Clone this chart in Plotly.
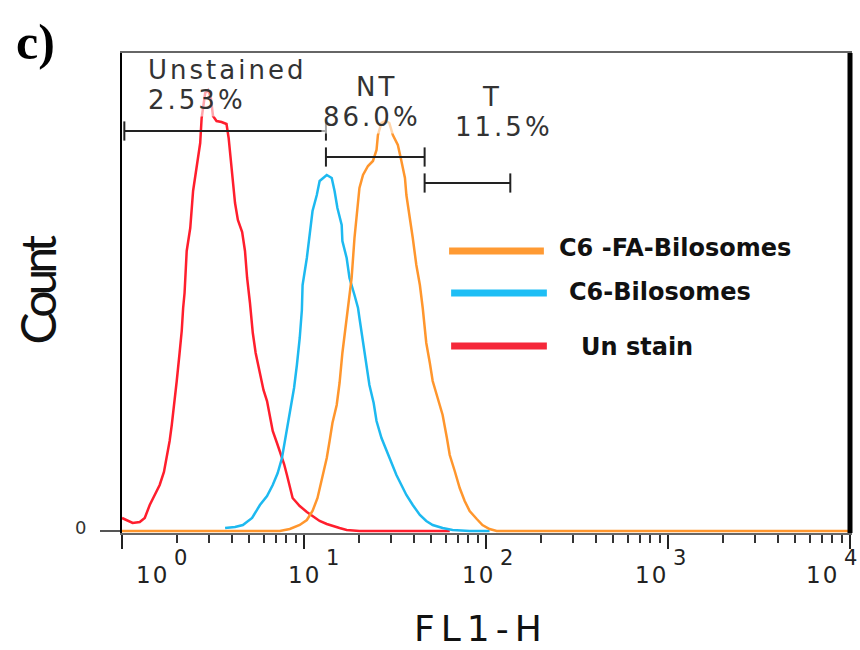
import numpy as np
import plotly.graph_objects as go

# ---------------- data ----------------
# FL1-H in channels (0-1024 over 4 log decades, 256 channels per decade) and event counts
unstain_ch = [0, 8, 15, 25, 32, 39, 46, 53, 59, 63, 67, 70, 74, 77, 81, 84, 86, 88, 91, 96,
              100, 105, 110, 112, 117, 121, 125, 128, 133, 140, 147, 150, 153, 156, 159, 163,
              169, 173, 176, 180, 184, 188, 194, 199, 204, 208, 212, 218, 222, 228, 232, 236,
              240, 250, 260, 270, 278, 288, 296, 306, 316, 334, 461]
unstain_cnt = [3.25, 2.5, 2, 2.25, 3.25, 6.5, 9, 11.5, 14.75, 18.25, 22.5, 26.5, 32, 37.5, 44.5,
               50, 55.75, 59.5, 70, 75.75, 85, 91.5, 97, 103.25, 109.5, 110.25, 108.25, 103.75,
               102.5, 102.25, 101.75, 98.25, 93.25, 88.25, 82, 77.75, 74.75, 70, 63.25, 57, 49.5,
               44.5, 39, 35.25, 32.5, 28.25, 25, 22, 20, 16.75, 14, 10.75, 8.25, 6.25, 4.75, 3.5,
               2.5, 1.75, 1.25, 0.75, 0.25, 0, 0]

c6_bilo_ch = [145, 159, 170, 183, 194, 204, 212, 219, 225, 230, 236, 242, 246, 250, 253, 254,
              260, 264, 268, 274, 278, 288, 295, 299, 303, 309, 310, 316, 320, 327, 332, 334,
              339, 344, 348, 354, 358, 365, 372, 379, 386, 393, 400, 409, 419, 428, 437, 451,
              465, 489, 517]
c6_bilo_cnt = [0.75, 1, 1.5, 3.25, 6.5, 8.75, 11.5, 14.5, 18.25, 23.25, 30, 35.75, 41.5, 48.25,
               55.25, 61.5, 68.25, 74, 80, 84, 87.5, 89, 88.25, 85, 80.75, 76.5, 72.5, 68.25,
               63.25, 59, 55.75, 53.25, 47.5, 42, 36.5, 32, 27.5, 23.25, 20, 17, 14, 11.5, 9,
               6.5, 4, 2.5, 1.5, 0.75, 0.25, 0, 0]

c6_fa_ch = [0, 222, 236, 250, 260, 268, 275, 282, 288, 292, 296, 302, 306, 310, 315, 318, 323,
            327, 332, 334, 339, 346, 353, 358, 360, 365, 371, 376, 381, 388, 393, 398, 400, 405,
            409, 414, 419, 423, 428, 433, 437, 444, 451, 457, 461, 468, 475, 482, 489, 499, 507,
            517, 527, 1024]
c6_fa_cnt = [0, 0, 0.5, 1.5, 2.75, 5, 8.25, 13.25, 18.25, 22.5, 27, 31.5, 37, 44.5, 52, 57,
             63.25, 73.25, 81.5, 85.75, 89, 91.25, 92.5, 95.25, 99, 102, 102.5, 102, 99, 96.5,
             92.5, 88.25, 84, 78.25, 73.25, 66.5, 61.5, 55.75, 47, 42, 37.5, 33.25, 29, 23.25,
             19, 15, 10.75, 7.5, 5, 3, 1.5, 0.5, 0, 0]

series_names = ["Un stain", "C6-Bilosomes", "C6 -FA-Bilosomes"]
series_ch = [unstain_ch, c6_bilo_ch, c6_fa_ch]
series_cnt = [unstain_cnt, c6_bilo_cnt, c6_fa_cnt]

gate_names = ["Unstained", "NT", "T"]
gate_pcts = ["2.53%", "86.0%", "11.5%"]
gate_edges = [1.03, 13.2, 46.0, 136.0]      # FL1-H values of the marker ends
gate_levels = [100.0, 93.5, 87.0]          # count level of each marker bar

decades = [1, 10, 100, 1000, 10000]
decade_exp = ["0", "1", "2", "3", "4"]

# ---------------- styles ----------------
series_colors = ["#FF1E2D", "#1DB9F0", "#FF962D"]
legend_colors = ["#F5283A", "#1EBEF5", "#FF9A33"]
FONT = "DejaVu Sans"

fig = go.Figure()

for name, ch, cnt, col in zip(series_names, series_ch, series_cnt, series_colors):
    x = 10 ** (np.array(ch, dtype=float) / 256.0)
    fig.add_trace(go.Scatter(x=x, y=cnt, mode="lines", name=name,
                             line=dict(color=col, width=2.5), showlegend=False,
                             hoverinfo="skip"))

# marker (gate) bars
gx, gy = [], []
for i in range(3):
    a, b, lv = gate_edges[i], gate_edges[i + 1], gate_levels[i]
    gx += [a, b, None, a, a, None, b, b, None]
    gy += [lv, lv, None, lv - 2.4, lv + 2.4, None, lv - 2.4, lv + 2.4, None]
fig.add_trace(go.Scatter(x=gx, y=gy, mode="lines", line=dict(color="#222", width=2),
                         showlegend=False, hoverinfo="skip"))

ann = []
# gate texts
gate_text_pos = [(0.0329, 0.9646, 0.0329, 0.902, "left"),
                 (0.3493, 0.929, 0.3438, 0.8667, "center"),
                 (0.5082, 0.9083, 0.5247, 0.8458, "center")]
for (nx, ny, px, py, anc), nm, pc in zip(gate_text_pos, gate_names, gate_pcts):
    ann.append(dict(xref="paper", yref="paper", x=nx, y=ny, xanchor=anc, yanchor="middle",
                    text='<span style="letter-spacing:3px">%s</span>' % nm, showarrow=False,
                    font=dict(family=FONT, size=26, color="#333")))
    ann.append(dict(xref="paper", yref="paper", x=px, y=py, xanchor=anc, yanchor="middle",
                    text='<span style="letter-spacing:3px">%s</span>' % pc, showarrow=False,
                    font=dict(family=FONT, size=26, color="#333"),
                    bgcolor="rgba(255,255,255,0.6)" if pc != "11.5%" else None))

# x tick labels 10^n
base_shift = [30, 0, -8, -17, -28]
for v, e, sh in zip(decades, decade_exp, base_shift):
    ann.append(dict(xref="x", yref="paper", x=np.log10(v), y=0, yanchor="middle",
                    xanchor="center", xshift=sh, yshift=-42, showarrow=False,
                    text='<span style="letter-spacing:2px">10</span>',
                    font=dict(family=FONT, size=23, color="#222")))
    ann.append(dict(xref="x", yref="paper", x=np.log10(v), y=0, yanchor="middle",
                    xanchor="center", xshift=sh + 28, yshift=-25, showarrow=False,
                    text=e, font=dict(family=FONT, size=21, color="#222")))

# y tick label
ann.append(dict(xref="paper", yref="paper", x=-0.0575, y=0.0125, xanchor="center",
                yanchor="middle", text="0", showarrow=False,
                font=dict(family=FONT, size=18, color="#333")))

# axis titles
ann.append(dict(xref="paper", yref="paper", x=0.4932, y=-0.198, xanchor="center",
                yanchor="middle", showarrow=False,
                text='<span style="letter-spacing:6px">FL1-H</span>',
                font=dict(family=FONT, size=36, color="#111")))
ann.append(dict(xref="paper", yref="paper", x=-0.1164, y=0.506, xanchor="center",
                yanchor="middle", showarrow=False, textangle=-90,
                text='<span style="letter-spacing:-5px">Count</span>',
                font=dict(family="Lato", size=48, color="#111")))

# panel letter
ann.append(dict(xref="paper", yref="paper", x=-0.1192, y=1.0229, xanchor="center",
                yanchor="middle", showarrow=False, text="<b>c)</b>",
                font=dict(family="Liberation Serif", size=50, color="#000")))

# legend (drawn manually to match the original layout)
shapes = []
leg_pos = {2: (0.4493, 0.5795, 0.5875, 0.5973, 0.59375),
           1: (0.4521, 0.5836, 0.5000, 0.6110, 0.5021),
           0: (0.4521, 0.5836, 0.3896, 0.6274, 0.3875)}
for idx in [2, 1, 0]:
    x0, x1, yl, tx, ty = leg_pos[idx]
    shapes.append(dict(type="line", xref="paper", yref="paper", x0=x0, x1=x1, y0=yl, y1=yl,
                       line=dict(color=legend_colors[idx], width=7)))
    ann.append(dict(xref="paper", yref="paper", x=tx, y=ty, xanchor="left", yanchor="middle",
                    showarrow=False, text="<b>%s</b>" % series_names[idx],
                    font=dict(family="DejaVu Sans", size=24, color="#111")))

# thick right frame edge
shapes.append(dict(type="line", xref="paper", yref="paper", x0=1, x1=1, y0=0, y1=1,
                   line=dict(color="#000", width=5)))

minor_vals = [d * k for d in decades[:-1] for k in range(2, 10)]

fig.update_layout(
    width=860, height=650,
    margin=dict(l=122, r=8, t=53, b=117),
    paper_bgcolor="white", plot_bgcolor="white",
    annotations=ann, shapes=shapes, showlegend=False,
    xaxis=dict(type="log", range=[0, 4], tickvals=decades, showticklabels=False,
               ticks="outside", ticklen=14, tickwidth=2, tickcolor="#222",
               minor=dict(tickvals=minor_vals, ticks="outside", ticklen=8, tickwidth=1.5,
                          tickcolor="#333", showgrid=False),
               showgrid=False, zeroline=False, showline=True, linecolor="#666",
               linewidth=2, mirror=True),
    yaxis=dict(range=[-0.5, 119.5], tickvals=[0], showticklabels=False, ticks="outside",
               ticklen=20, tickwidth=1.5, tickcolor="#555", showgrid=False, zeroline=False,
               showline=True, linecolor="#000", linewidth=2, mirror=True),
)

fig.write_html("out.html", config={"displayModeBar": False},
               post_script="document.body.style.margin='0';")
